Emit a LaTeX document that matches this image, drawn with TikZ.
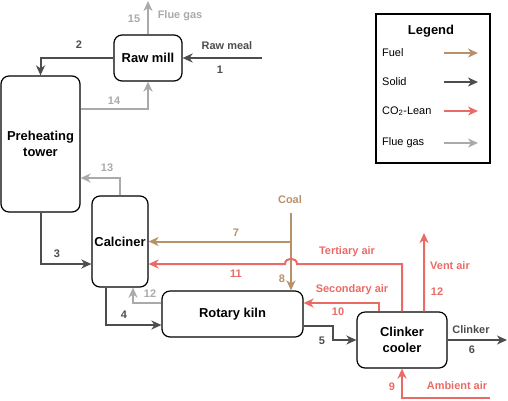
\documentclass[tikz,border=0pt]{standalone}
\usepackage{fontspec}
\setmainfont{Liberation Sans}
\usetikzlibrary{arrows.meta,positioning}
\definecolor{fuelc}{RGB}{185,145,105}
\definecolor{solidc}{RGB}{77,77,77}
\definecolor{airc}{RGB}{234,107,102}
\definecolor{fluec}{RGB}{170,170,170}
\tikzset{
  unit/.style={draw=black, line width=1.2bp, rounded corners=8bp, align=center, inner sep=0pt, font=\bfseries\fontsize{13}{16.5}\selectfont},
  flow/.style={line width=2bp, -{Stealth[length=10bp,width=9bp,inset=3bp]}},
  solidln/.style={flow, draw=solidc},
  fuelln/.style={flow, draw=fuelc},
  airln/.style={flow, draw=airc},
  flueln/.style={flow, draw=fluec},
  lbl/.style={inner sep=0pt, font=\bfseries\fontsize{11}{13}\selectfont},
  lgd/.style={inner sep=0pt, font=\fontsize{11}{13}\selectfont}
}
\begin{document}
\begin{tikzpicture}[x=1bp,y=-1bp]
\useasboundingbox (0,0) rectangle (508,400);

\node[unit, minimum width=68bp, minimum height=46bp] (mill) at (148,58) {Raw mill};
\node[unit, minimum width=79bp, minimum height=136bp] (tower) at (40.5,144) {Preheating\\tower};
\node[unit, minimum width=56bp, minimum height=91bp] (calc) at (120,241.5) {Calciner};
\node[unit, minimum width=141bp, minimum height=46bp] (kiln) at (232.5,314) {Rotary kiln};
\node[unit, minimum width=90bp, minimum height=56bp] (cooler) at (402,340) {Clinker\\cooler};

\coordinate (meal) at (262,58);
\coordinate (flue) at (148,1);
\coordinate (coal) at (291,213);
\coordinate (vent) at (424,233);
\coordinate (clk) at (507,340);
\coordinate (amb) at (490,398);

% solid
\draw[solidln] (meal) -- (mill.east);
\draw[solidln] (mill.west) -| (tower.north);
\draw[solidln] (tower.south) |- ([yshift=-22.5bp]calc.west);
\draw[solidln] ([xshift=-14bp]calc.south) |- ([yshift=-11bp]kiln.west);
\draw[solidln] ([yshift=-12bp]kiln.east) -- ++(29,0) |- (cooler.west);
\draw[solidln] (cooler.east) -- (clk);

% flue gas
\draw[flueln] (mill.north) -- (flue);
\draw[flueln] ([yshift=35bp]tower.east) -| (mill.south);
\draw[flueln] (calc.north) |- ([yshift=-34bp]tower.east);
\draw[flueln] ([yshift=11bp]kiln.west) -| ([xshift=13bp]calc.south);

% fuel
\draw[fuelln] (coal) -- (coal |- kiln.north);
\draw[fuelln] (coal |- calc.east) -- (calc.east);

% air
\draw[airln] (cooler.north) |- (297,264) .. controls (297,257) and (285,257) .. (285,264) -- ([yshift=-22.5bp]calc.east);
\draw[airln] ([xshift=-23bp]cooler.north) |- ([yshift=11bp]kiln.east);
\draw[airln] ([xshift=22bp]cooler.north) -- (vent);
\draw[airln] (amb) -| (cooler.south);

\node[lbl, text=solidc] (n1) at (220,70) {1};
\node[lbl, text=solidc] (tmeal) at (227,46) {Raw meal};
\node[lbl, text=solidc] (n2) at (79,45) {2};
\node[lbl, text=fluec] (n15) at (134,19) {15};
\node[lbl, text=fluec] (tflue) at (180,16) {Flue gas};
\node[lbl, text=fluec] (n14) at (114,101) {14};
\node[lbl, text=fluec] (n13) at (107,168) {13};
\node[lbl, text=solidc] (n3) at (57,254) {3};
\node[lbl, text=fuelc] (n7) at (236,233) {7};
\node[lbl, text=airc] (n11) at (236,274) {11};
\node[lbl, text=fluec] (n12) at (150,294) {12};
\node[lbl, text=solidc] (n4) at (124,315) {4};
\node[lbl, text=fuelc] (tcoal) at (290,200) {Coal};
\node[lbl, text=fuelc] (n8) at (282,279) {8};
\node[lbl, text=airc] (tter) at (347,252) {Tertiary air};
\node[lbl, text=airc] (tsec) at (352,290) {Secondary air};
\node[lbl, text=airc] (n10) at (338,312) {10};
\node[lbl, text=airc] (tvent) at (450,266) {Vent air};
\node[lbl, text=airc] (nv12) at (437,292) {12};
\node[lbl, text=solidc] (n5) at (322,341) {5};
\node[lbl, text=solidc] (tclk) at (471,330) {Clinker};
\node[lbl, text=solidc] (n6) at (472,350) {6};
\node[lbl, text=airc] (n9) at (392,387) {9};
\node[lbl, text=airc] (tamb) at (457,386) {Ambient air};

% legend
\node[draw=black, line width=1.2bp, minimum width=114bp, minimum height=149bp, inner sep=0pt] (legend) at (433,88.5) {};
\node[inner sep=0pt, font=\bfseries\fontsize{13}{15}\selectfont] (ltitle) at (431,31) {Legend};
\foreach \y/\c/\t [count=\i] in {53/fuelc/Fuel, 82/solidc/Solid, 111/airc/CO\textsubscript{2}-Lean, 143/fluec/Flue gas} {
\node[lgd, anchor=west] (lt\i) at (382,\y) {\t};
\coordinate (la\i) at (444,\y);
\draw[flow, draw=\c] (la\i) -- ++(34,0);
}
\end{tikzpicture}
\end{document}
